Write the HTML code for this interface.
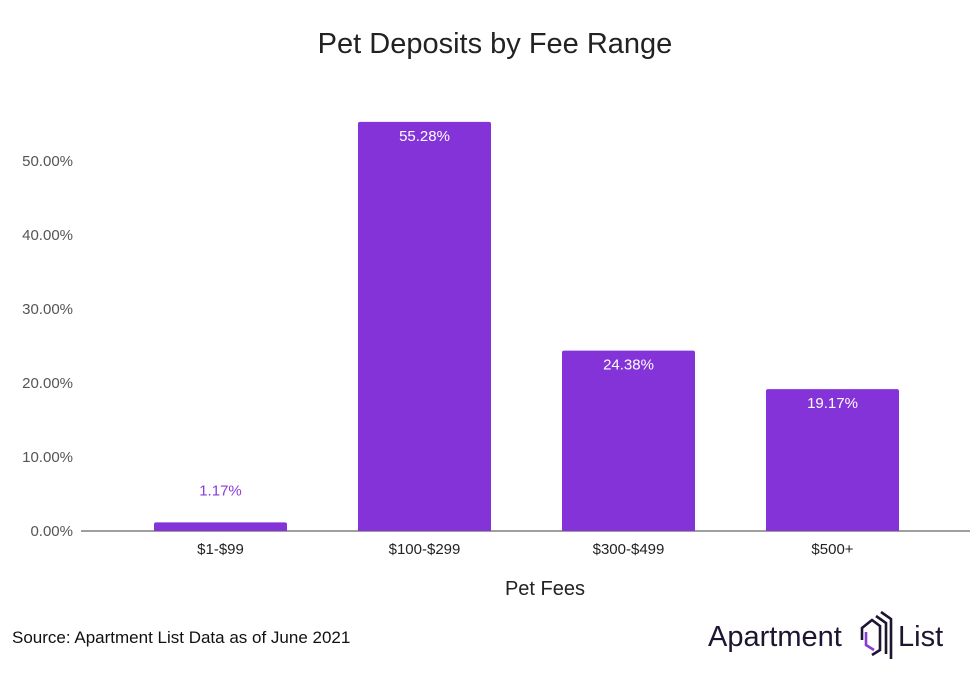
<!DOCTYPE html>
<html><head><meta charset="utf-8"><style>
body{margin:0;background:#fff;width:980px;height:686px;overflow:hidden;font-family:"Liberation Sans",Arial,sans-serif}
</style></head><body>
<svg width="980" height="686" xmlns="http://www.w3.org/2000/svg">
<text x="495" y="53" text-anchor="middle" font-size="29" fill="#222">Pet Deposits by Fee Range</text>
<g id="yaxis"></g>
<line x1="81" x2="970" y1="531" y2="531" stroke="#666" stroke-width="1.3"/>
<g id="bars"></g>
<text x="545" y="595" text-anchor="middle" font-size="20" fill="#222">Pet Fees</text>
<text x="12" y="643" font-size="17" fill="#111">Source: Apartment List Data as of June 2021</text>
<g>
<text x="708" y="646" font-size="29" fill="#1e1530">Apartment</text>
<g fill="none" stroke-width="2.6" stroke-linejoin="miter">
<path d="M862 640 V628 L872 620 L880 626 V650 L872 655" stroke="#1e1530"/>
<path d="M866 632 V645 L874 650" stroke="#8a3bd8"/>
<path d="M876 616 L886 623 V654" stroke="#1e1530"/>
<path d="M881 612 L891 619 V659" stroke="#1e1530"/>
</g>
<text x="898" y="646" font-size="29" fill="#1e1530">List</text>
</g>
</svg>
<script>
const categories=["$1-$99","$100-$299","$300-$499","$500+"];
const values=[1.17,55.28,24.38,19.17];
const yTicks=[0,10,20,30,40,50];
const NS="http://www.w3.org/2000/svg";
const y0=531,pxPer=7.4,x0=118.5,band=204,bw=133;
const yScale=v=>y0-v*pxPer;
const xCenter=i=>x0+band*i+band/2;
const ya=document.getElementById('yaxis');
yTicks.forEach(t=>{
  const tx=document.createElementNS(NS,'text');
  
  
  tx.setAttribute('x',73);tx.setAttribute('y',yScale(t)+5);
  tx.setAttribute('text-anchor','end');tx.setAttribute('font-size','15');tx.setAttribute('fill','#555');
  tx.textContent=t.toFixed(2)+'%';ya.appendChild(tx);
});
const g=document.getElementById('bars');
values.forEach((v,i)=>{
  const cx=xCenter(i),top=yScale(v);
  const r=document.createElementNS(NS,'path');
  
  
  const x=cx-bw/2,h=y0-top,rad=Math.min(2,h);
  r.setAttribute('d',`M${x} ${y0}V${top+rad}Q${x} ${top} ${x+rad} ${top}H${x+bw-rad}Q${x+bw} ${top} ${x+bw} ${top+rad}V${y0}Z`);
  r.setAttribute('fill','#8433d8');g.appendChild(r);
  const lb=document.createElementNS(NS,'text');
  
  
  const inside=h>30;
  lb.setAttribute('x',cx);lb.setAttribute('y',inside?top+19:top-27);
  lb.setAttribute('text-anchor','middle');lb.setAttribute('font-size','15');
  lb.setAttribute('fill',inside?'#fff':'#8a3bd8');
  lb.textContent=v.toFixed(2)+'%';g.appendChild(lb);
  const cl=document.createElementNS(NS,'text');
  
  
  cl.setAttribute('x',cx);cl.setAttribute('y',554);
  cl.setAttribute('text-anchor','middle');cl.setAttribute('font-size','15');cl.setAttribute('fill','#222');
  cl.textContent=categories[i];g.appendChild(cl);
});
</script>
</body></html>
